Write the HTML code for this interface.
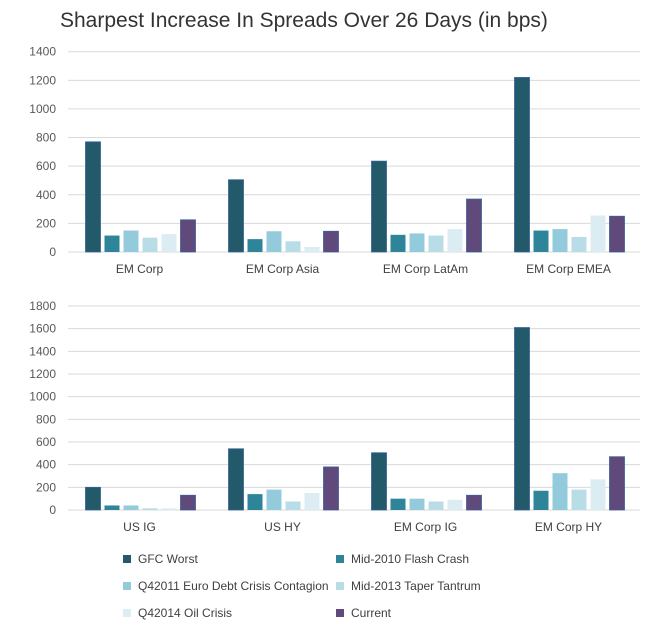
<!DOCTYPE html>
<html><head><meta charset="utf-8"><style>
body{margin:0;background:#fff;font-family:"Liberation Sans",sans-serif}
</style></head><body>
<svg id="c" width="654" height="626" xmlns="http://www.w3.org/2000/svg">
<text x="60" y="27" font-size="21" fill="#333">Sharpest Increase In Spreads Over 26 Days (in bps)</text>
</svg>
<script>
const seriesNames=["GFC Worst","Mid-2010 Flash Crash","Q42011 Euro Debt Crisis Contagion","Mid-2013 Taper Tantrum","Q42014 Oil Crisis","Current"];
const colors=["#225a6a","#2e859a","#93cbdc","#b8dde7","#dbedf3","#5f4a7b"];
const topCategories=["EM Corp","EM Corp Asia","EM Corp LatAm","EM Corp EMEA"];
const topValues=[[770,115,150,100,125,225],[505,90,145,75,35,145],[635,120,130,115,160,370],[1220,150,160,105,255,250]];
const topTicks=[0,200,400,600,800,1000,1200,1400];
const botCategories=["US IG","US HY","EM Corp IG","EM Corp HY"];
const botValues=[[200,40,40,15,15,130],[540,140,180,75,150,380],[505,100,100,75,90,130],[1610,170,325,180,270,470]];
const botTicks=[0,200,400,600,800,1000,1200,1400,1600,1800];
const svg=document.getElementById('c');
const NS="http://www.w3.org/2000/svg";
function mk(t,a){const e=document.createElementNS(NS,t);for(const k in a)e.setAttribute(k,a[k]);svg.appendChild(e);return e;}
function panel(cats,vals,ticks,y0,yTop,prefix){
  const left=68,right=640,max=ticks[ticks.length-1];
  const y=v=>y0-(v/max)*(y0-yTop);
  ticks.forEach(t=>{
    const l=mk('line',{x1:left,x2:right,y1:y(t),y2:y(t),stroke:'#d9d9d9','stroke-width':1});
    
    
    const tx=mk('text',{x:56,y:y(t)+4,'text-anchor':'end','font-size':12,fill:'#595959'});
    tx.textContent=t;
    
    
  });
  const gw=(right-left)/cats.length;
  cats.forEach((c,i)=>{
    const gx=left+i*gw+17.5;
    vals[i].forEach((v,j)=>{
      const r=mk('rect',{x:gx+j*19,y:y(v),width:15,height:y0-y(v),fill:colors[j]});
      if(j==0||j==5){r.setAttribute('stroke','#3a5f9a');r.setAttribute('stroke-width','0.8');}
      
      
    });
    const tx=mk('text',{x:left+i*gw+gw/2,y:y0+21,'text-anchor':'middle','font-size':12,fill:'#404040'});
    tx.textContent=c;
    
    
  });
}
panel(topCategories,topValues,topTicks,252,51.7,'top');
panel(botCategories,botValues,botTicks,510,306,'bottom');
seriesNames.forEach((n,i)=>{
  const x=i%2?336:123,yy=559+Math.floor(i/2)*27;
  const r=mk('rect',{x:x,y:yy-4,width:8,height:8,fill:colors[i]});
  
  
  const t=mk('text',{x:x+15,y:yy+4,'font-size':12,fill:'#404040'});
  t.textContent=n;
  
  
});
</script>
</body></html>
